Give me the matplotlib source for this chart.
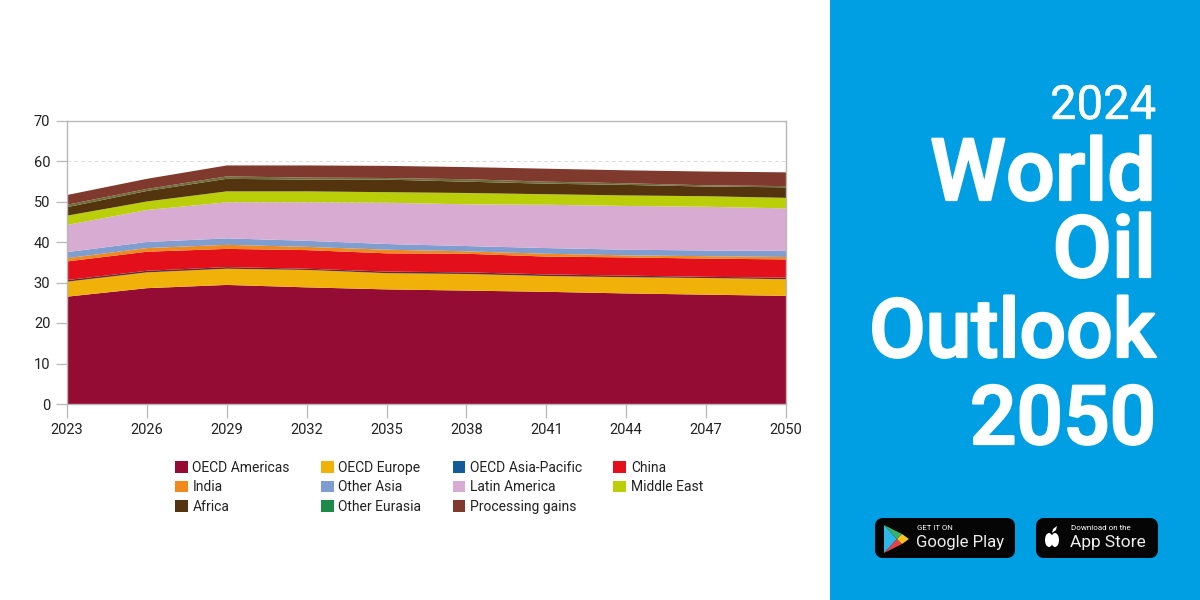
import matplotlib
matplotlib.use("Agg")
import matplotlib.pyplot as plt
import matplotlib.patheffects as pe
from matplotlib.patches import Rectangle, FancyBboxPatch, Polygon, Ellipse

plt.rcParams["font.family"] = ["Roboto", "DejaVu Sans"]

years = [2023, 2026, 2029, 2032, 2035, 2038, 2041, 2044, 2047, 2050]

# Regional demand per period, stacked bottom to top
oecd_americas = [26.5, 28.6, 29.4, 28.8, 28.3, 28.0, 27.7, 27.3, 27.0, 26.7]
oecd_europe = [3.7, 3.9, 4.0, 4.3, 4.0, 4.1, 3.9, 4.0, 4.1, 4.1]
oecd_asia_pacific = [0.4, 0.4, 0.4, 0.3, 0.4, 0.4, 0.4, 0.4, 0.3, 0.4]
china = [4.6, 4.7, 4.5, 4.6, 4.5, 4.6, 4.4, 4.5, 4.5, 4.5]
india = [0.8, 0.9, 1.0, 0.8, 0.9, 0.6, 0.7, 0.5, 0.6, 0.6]
other_asia = [1.5, 1.5, 1.6, 1.5, 1.4, 1.3, 1.4, 1.4, 1.4, 1.5]
latin_america = [6.7, 7.9, 8.9, 9.5, 10.2, 10.3, 10.7, 10.8, 10.8, 10.5]
middle_east = [2.3, 2.1, 2.7, 2.7, 2.6, 2.8, 2.6, 2.6, 2.6, 2.6]
africa = [2.1, 2.6, 3.1, 2.9, 3.1, 2.8, 2.6, 2.6, 2.4, 2.6]
other_eurasia = [0.6, 0.5, 0.6, 0.5, 0.4, 0.6, 0.5, 0.4, 0.3, 0.3]
processing_gains = [2.4, 2.5, 2.7, 3.0, 3.0, 3.0, 3.2, 3.2, 3.4, 3.4]

series = [oecd_americas, oecd_europe, oecd_asia_pacific, china, india, other_asia,
          latin_america, middle_east, africa, other_eurasia, processing_gains]
names = ["OECD Americas", "OECD Europe", "OECD Asia-Pacific", "China", "India",
         "Other Asia", "Latin America", "Middle East", "Africa", "Other Eurasia",
         "Processing gains"]
colors = ["#940B33", "#F0B208", "#125B96", "#E3101B", "#F08A1D", "#7F9DCE",
          "#D8ABD2", "#BACF0A", "#53340F", "#1C8A4A", "#803A2D"]
legend_order = [0, 4, 8, 1, 5, 9, 2, 6, 10, 3, 7]

y_ticks = [0, 10, 20, 30, 40, 50, 60, 70]

title_lines = ["2024", "World", "Oil", "Outlook", "2050"]

fig = plt.figure(figsize=(12, 6), dpi=100, facecolor="white")

# Stacked area chart
ax = fig.add_axes([67 / 1200, 196 / 600, 719 / 1200, 283.5 / 600])
stacks = ax.stackplot(years, *series, colors=colors, labels=names, linewidth=0, zorder=3)
ax.set_xlim(2023, 2050)
ax.set_ylim(0, 70)
ax.set_xticks(years)
ax.set_yticks(y_ticks)
ax.yaxis.grid(True, color="#DDDDDD", linestyle=(0, (4, 3)), linewidth=0.7, zorder=1)
ax.tick_params(axis="both", length=8, width=0.9, color="#B8B8B8", labelsize=10.5,
               labelcolor="#222222", pad=4)
ax.tick_params(axis="x", length=10, pad=4)
for spine in ax.spines.values():
    spine.set_color("#B8B8B8")
    spine.set_linewidth(1.0)
    spine.set_zorder(4)

handles = [stacks[i] for i in legend_order]
labels = [names[i] for i in legend_order]
ax.legend(handles, labels, ncol=4, frameon=False, fontsize=10, loc="upper left",
          bbox_to_anchor=(108 / 719, -0.2), borderaxespad=0, borderpad=0,
          handlelength=0.9, handleheight=0.9, handletextpad=0.35,
          columnspacing=2.25, labelspacing=0.4, labelcolor="#222222")

# The hairline bands read as muted tones once they sit between their neighbours
stacks[2].set_facecolor("#5E2F3A")
stacks[9].set_facecolor("#6E6E3C")

# Overlay in pixel coordinates for the title panel and store badges
ov = fig.add_axes([0, 0, 1, 1], zorder=5)
ov.set_xlim(0, 1200)
ov.set_ylim(600, 0)
ov.axis("off")
ov.patch.set_alpha(0)

ov.add_patch(Rectangle((830, 0), 370, 600, facecolor="#009FE3", edgecolor="none"))

baselines = [119, 200, 277, 357, 444]
sizes = [34, 62, 62, 59, 59]
weights = ["normal", "medium", "medium", "medium", "medium"]
strokes = [0.3, 1.6, 1.6, 1.6, 1.6]
for line, base, size, weight, stroke in zip(title_lines, baselines, sizes, weights, strokes):
    label = ov.text(1156, base, line, color="white", fontsize=size, fontweight=weight,
                    ha="right", va="baseline")
    label.set_path_effects([pe.withStroke(linewidth=stroke, foreground="white")])

for x0, x1 in [(875, 1015), (1036, 1158)]:
    ov.add_patch(FancyBboxPatch((x0 + 4, 522), x1 - x0 - 8, 32,
                                boxstyle="round,pad=0,rounding_size=4", mutation_aspect=1,
                                linewidth=5.76, edgecolor="#050505", facecolor="#050505",
                                joinstyle="round"))

# Google Play mark
ov.add_patch(Polygon([(884, 525), (884, 553), (897, 539)], facecolor="#2FB6E8", edgecolor="none"))
ov.add_patch(Polygon([(884, 525), (897, 539), (902, 534)], facecolor="#35B26B", edgecolor="none"))
ov.add_patch(Polygon([(884, 553), (897, 539), (902, 544)], facecolor="#E4434B", edgecolor="none"))
ov.add_patch(Polygon([(902, 534), (897, 539), (902, 544), (909, 539)], facecolor="#F7C325", edgecolor="none"))
ov.text(917, 528.5, "GET IT ON", color="white", fontsize=5.6, va="center", ha="left")
ov.text(916, 543, "Google Play", color="#EEEEEE", fontsize=12, va="center", ha="left")

# Apple mark
ov.add_patch(Ellipse((1049, 540), 8, 14, facecolor="white", edgecolor="none"))
ov.add_patch(Ellipse((1055, 540), 8, 14, facecolor="white", edgecolor="none"))
ov.add_patch(Polygon([(1052, 533), (1053, 529), (1057, 526), (1056, 530)], facecolor="white", edgecolor="none"))
ov.text(1071, 528.5, "Download on the", color="white", fontsize=5.8, va="center", ha="left")
ov.text(1070, 543, "App Store", color="#EEEEEE", fontsize=12.5, va="center", ha="left")

fig.savefig("out.png", dpi=100)
